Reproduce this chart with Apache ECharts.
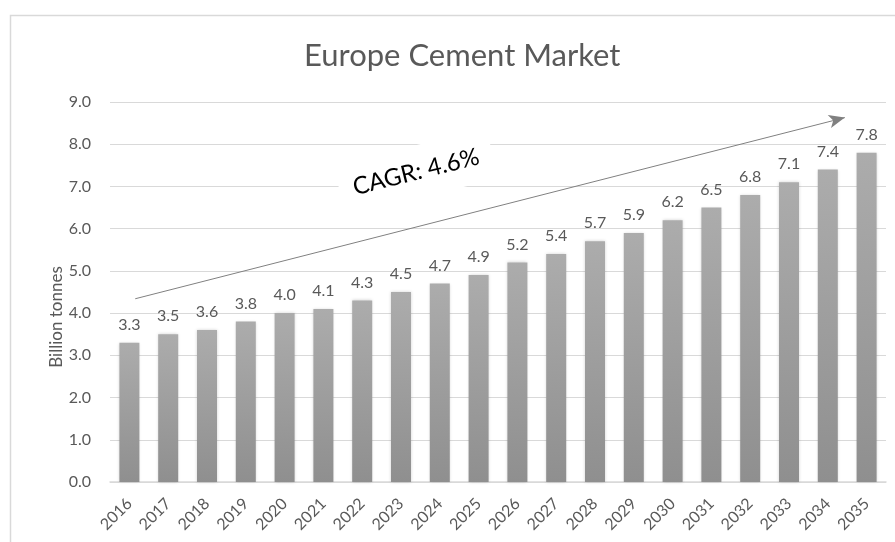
<!DOCTYPE html>
<html>
<head>
<meta charset="utf-8">
<script src="https://cdn.jsdelivr.net/npm/echarts@6/dist/echarts.min.js"></script>
<style>
  html, body { margin: 0; padding: 0; background: #fff; }
  #main { width: 895px; height: 542px; }
</style>
</head>
<body>
<div id="main"></div>
<script>
// values
var years = ['2016', '2017', '2018', '2019', '2020', '2021', '2022', '2023', '2024', '2025',
  '2026', '2027', '2028', '2029', '2030', '2031', '2032', '2033', '2034', '2035'];
var volume = [3.3, 3.5, 3.6, 3.8, 4.0, 4.1, 4.3, 4.5, 4.7, 4.9,
  5.2, 5.4, 5.7, 5.9, 6.2, 6.5, 6.8, 7.1, 7.4, 7.8];
// CAGR arrow, in (category position, value) units
var arrowFrom = [0.15, 4.34];
var arrowTo = [18.44, 8.63];

var font = 'Lato, "Open Sans", sans-serif';
var grey = '#595959';

var chart = echarts.init(document.getElementById('main'));

var option = {
  animation: false,
  title: {
    text: 'Europe Cement Market',
    left: 299,
    top: 35,
    textStyle: { color: grey, fontFamily: font, fontWeight: 'normal', fontSize: 31 }
  },
  grid: { left: 110, right: 9, top: 102, bottom: 60 },
  xAxis: [{
    type: 'category',
    data: years,
    axisLine: { lineStyle: { color: '#d9d9d9', width: 1.5 } },
    axisTick: { show: false },
    axisLabel: { rotate: 45, color: grey, fontFamily: font, fontSize: 16, margin: 19, interval: 0 }
  }, {
    type: 'value',
    min: -0.5,
    max: 19.5,
    show: false
  }],
  yAxis: {
    type: 'value',
    min: 0,
    max: 9,
    interval: 1,
    axisLine: { show: false },
    axisTick: { show: false },
    axisLabel: {
      color: grey, fontFamily: font, fontSize: 16, margin: 19,
      formatter: function (v) { return v.toFixed(1); }
    },
    splitLine: { lineStyle: { color: '#d9d9d9', width: 1.2 } }
  },
  series: [{
    type: 'bar',
    data: volume,
    barWidth: 20,
    z: 3,
    itemStyle: {
      color: new echarts.graphic.LinearGradient(0, 0, 0, 1, [
        { offset: 0, color: '#acacac' },
        { offset: 1, color: '#8f8f8f' }
      ]),
      shadowBlur: 3,
      shadowColor: 'rgba(0,0,0,0.18)'
    },
    label: {
      show: true,
      position: 'top',
      distance: 10,
      color: grey,
      fontFamily: font,
      fontSize: 16,
      formatter: function (p) { return p.value.toFixed(1); }
    }
  }, {
    type: 'line',
    xAxisIndex: 1,
    data: [],
    silent: true,
    markLine: {
      silent: true,
      symbol: ['none', 'arrow'],
      symbolSize: [10, 16],
      label: { show: false },
      lineStyle: { color: '#808080', width: 1, type: 'solid' },
      data: [[{ coord: arrowFrom }, { coord: arrowTo }]]
    }
  }],
  graphic: [{
    type: 'rect',
    shape: { x: 10.5, y: 15.5, width: 1000, height: 700 },
    style: { fill: 'none', stroke: '#d9d9d9', lineWidth: 1.5 },
    silent: true,
    z: -10
  }, {
    type: 'text',
    x: 57,
    y: 317,
    rotation: Math.PI / 2,
    style: {
      text: 'Billion tonnes',
      fill: grey,
      font: '17px ' + font,
      align: 'center',
      verticalAlign: 'middle'
    }
  }, {
    type: 'text',
    x: 416,
    y: 172,
    rotation: 14 * Math.PI / 180,
    z: 10,
    style: {
      text: 'CAGR: 4.6%',
      fill: '#000',
      font: '24px ' + font,
      align: 'center',
      verticalAlign: 'middle',
      backgroundColor: '#fff',
      padding: [14, 14]
    }
  }]
};

chart.setOption(option);
</script>
</body>
</html>
